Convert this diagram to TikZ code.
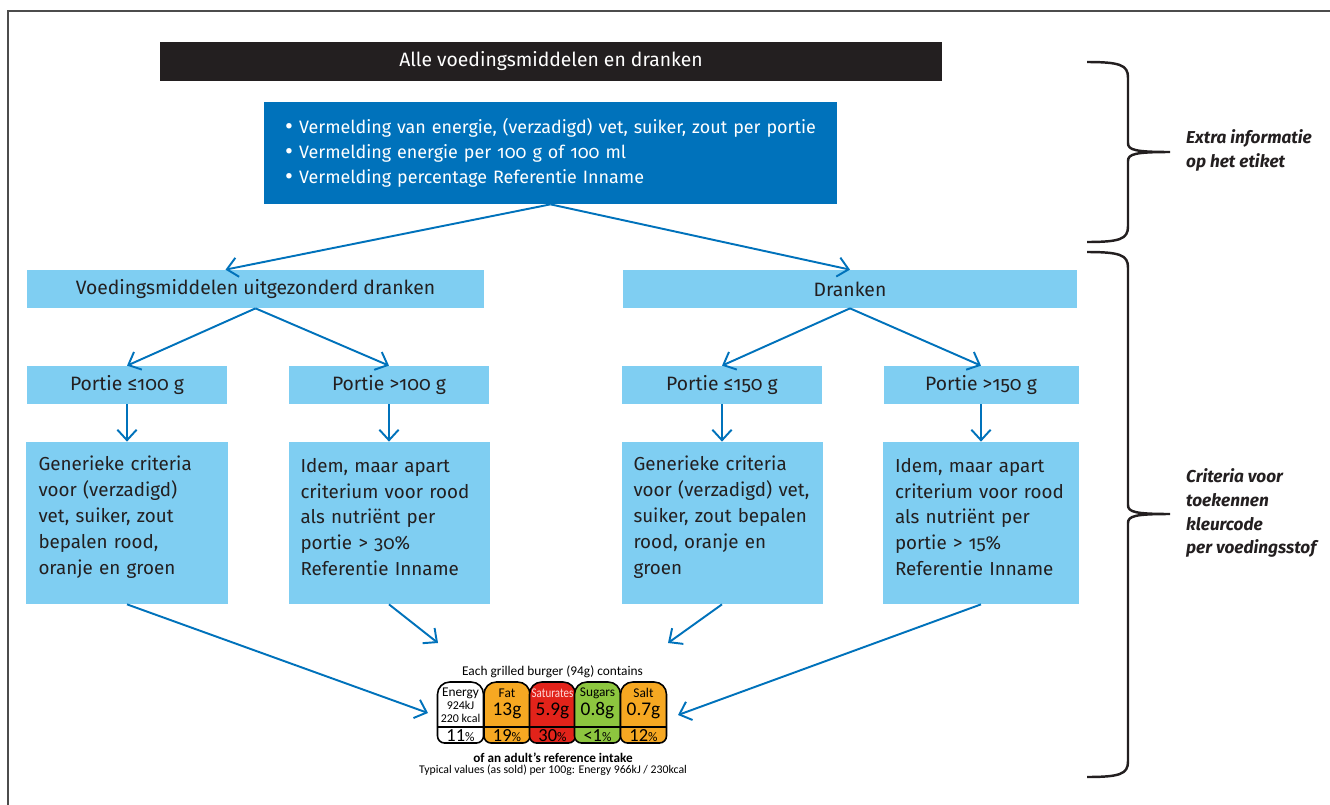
\documentclass[tikz,border=0pt]{standalone}
\usepackage{fontspec}
\setmainfont{Fira Sans}[Numbers=OldStyle]
\newfontfamily\lblfont{Carlito}
\usepackage{tikz}
\usetikzlibrary{arrows.meta,calc}
\definecolor{roBlue}{RGB}{0,114,187}
\definecolor{roLight}{RGB}{127,206,242}
\definecolor{roBlack}{RGB}{35,31,32}
\definecolor{lblOrange}{RGB}{246,168,34}
\definecolor{lblRed}{RGB}{226,35,26}
\definecolor{lblGreen}{RGB}{141,198,63}
\newcommand{\lblPct}[1]{#1{\fontsize{7.5}{8}\selectfont\%}}
\newcommand{\infoDot}{\makebox[8pt][l]{\raisebox{-0.6pt}{\scalebox{1.35}{\textbullet}}}}
\tikzset{flowFig/.style={-{Straight Barb[length=6pt,width=11pt]},line width=1.1pt,color=roBlue},
                    barBox/.style={fill=roBlack,text=white,minimum width=15.64cm,minimum height=0.78cm,
                    font=\fontsize{11}{13}\selectfont},
                    infoBox/.style={fill=roBlue,text=white,minimum width=11.46cm,minimum height=2.04cm,
                    inner xsep=0.42cm,text width=10.62cm,align=left,font=\fontsize{10.2}{14.2}\selectfont},
                    lightBox/.style={fill=roLight,text=roBlack,minimum height=0.76cm,font=\fontsize{11}{13}\selectfont},
                    critBox/.style={fill=roLight,text=roBlack,minimum height=3.24cm,inner xsep=0.24cm,
                    text width=3.54cm,align=left,font=\fontsize{10.7}{14.7}\selectfont,
                    execute at end node={\par\vspace{0.24cm}}},
                    braceLine/.style={line width=1.4pt,draw=roBlack},
                    sideText/.style={anchor=west,align=left,text=roBlack,font=\bfseries\itshape\fontsize{9.8}{13.6}\selectfont},
                    pillLine/.style={line width=0.9pt,draw=black},
                    lblText/.style={inner sep=0pt,font=\lblfont\fontsize{6.7}{8}\selectfont},
                    lblVal/.style={inner sep=0pt,align=center,font=\lblfont\fontsize{11}{11}\selectfont}}

\begin{document}
\begin{tikzpicture}
		    \useasboundingbox (0,0) rectangle (26.6,-16.1);
		    \draw[gray!60!black,line width=0.8pt] (0.16,-16.3) -- (0.16,-0.22) -- (26.8,-0.22);
		    %TOP
			\node [barBox] (bAll) at (11.02,-1.23)     {Alle voedingsmiddelen en dranken};
			\node [infoBox] (bInfo) at (11.01,-3.06)     {\infoDot Vermelding van energie, (verzadigd) vet, suiker, zout per portie\\
			\infoDot Vermelding energie per 100 g of 100 ml\\
			\infoDot Vermelding percentage Referentie Inname};
			%FOOD
			\node [lightBox, minimum width=9.14cm] (bFood) at (5.11,-5.78)     {Voedingsmiddelen uitgezonderd dranken};
			\node [lightBox, minimum width=4cm] (pF1) at (2.54,-7.70)     {Portie ≤100 g};
			\node [lightBox, minimum width=4cm] (pF2) at (7.78,-7.70)     {Portie >100 g};
			\node [critBox] (cF1) at (2.54,-10.46)     {Generieke criteria\\voor (verzadigd)\\vet, suiker, zout\\bepalen rood,\\oranje en groen};
			\node [critBox] (cF2) at (7.78,-10.46)     {Idem, maar apart\\criterium voor rood\\als nutriënt per\\portie > 30\%\\Referentie Inname};
			%DRINKS
			\node [lightBox, minimum width=9.08cm] (bDrink) at (17.0,-5.78)     {Dranken};
			\node [lightBox, minimum width=4cm] (pD1) at (14.44,-7.70)     {Portie ≤150 g};
			\node [lightBox, minimum width=3.9cm] (pD2) at (19.62,-7.70)     {Portie >150 g};
			\node [critBox] (cD1) at (14.44,-10.46)     {Generieke criteria\\voor (verzadigd) vet,\\suiker, zout bepalen\\rood, oranje en\\groen};
			\node [critBox, text width=3.44cm] (cD2) at (19.62,-10.46)     {Idem, maar apart\\criterium voor rood\\als nutriënt per\\portie > 15\%\\Referentie Inname};
			%LABEL
			\coordinate (lblW) at (8.56,-14.26);
			\coordinate (lblNW) at (8.76,-12.86);
			\coordinate (lblNE) at (13.36,-12.86);
			\coordinate (lblE) at (13.56,-14.30);
			\node [lblText, font=\lblfont\fontsize{7.6}{8}\selectfont] (lblHead) at (11.05,-13.44) {Each grilled burger (94g) contains};
			\foreach \cx/\fc/\nm/\pct [count=\i] in {9.21/white/Energy/11, 10.14/lblOrange/Fat/19,
			    11.05/lblRed/{\color{white!85!red}\scalebox{0.82}[1]{Saturates}}/30, 11.95/lblGreen/Sugars/{<1}, 12.87/lblOrange/Salt/12}
			{
			    \draw[pillLine, fill=\fc] (\cx-0.46,-14.3) [rounded corners=4pt] -- (\cx-0.46,-14.86) -- (\cx+0.46,-14.86)
			        -- (\cx+0.46,-14.3) [rounded corners=7pt] -- (\cx+0.46,-13.64) -- (\cx-0.46,-13.64) -- (\cx-0.46,-14.3);
			    \draw[pillLine, line width=1.1pt] (\cx-0.46,-14.54) -- (\cx+0.46,-14.54);
			    \node [lblText, font=\lblfont\fontsize{7.6}{9}\selectfont] (lblN\i) at (\cx,-13.86) {\nm};
			    \node [lblVal, font=\lblfont\fontsize{10.5}{11}\selectfont] (lblP\i) at (\cx,-14.71) {\lblPct{\pct}};
			}
			\node [lblVal, font=\lblfont\fontsize{6.8}{7}\selectfont] (lblV1) at (9.21,-14.24) {924kJ\\220 kcal};
			\node [lblVal] (lblV2) at (10.14,-14.22) {13g};
			\node [lblVal] (lblV3) at (11.05,-14.22) {5.9g};
			\node [lblVal] (lblV4) at (11.95,-14.22) {0.8g};
			\node [lblVal] (lblV5) at (12.87,-14.22) {0.7g};
			\node [lblText, font=\lblfont\bfseries\fontsize{7.5}{8}\selectfont] (lblRI) at (11.06,-15.16) {of an adult’s reference intake};
			\node [lblText] (lblTyp) at (11.06,-15.40) {Typical values (as sold) per 100g: Energy 966kJ / 230kcal};
			%SIDE
			\draw[braceLine] (21.74,-1.24) .. controls (22.40,-1.24) and (22.56,-1.30) .. (22.56,-1.55) -- (22.56,-2.86)
			    .. controls (22.56,-3.00) and (22.70,-3.04) .. (23.40,-3.04)
			    .. controls (22.70,-3.04) and (22.56,-3.08) .. (22.56,-3.22) -- (22.56,-4.53)
			    .. controls (22.56,-4.78) and (22.40,-4.84) .. (21.74,-4.84);
			\draw[braceLine] (21.74,-5.04) .. controls (22.40,-5.04) and (22.56,-5.10) .. (22.56,-5.35) -- (22.56,-10.10)
			    .. controls (22.56,-10.24) and (22.70,-10.28) .. (23.40,-10.28)
			    .. controls (22.70,-10.28) and (22.56,-10.32) .. (22.56,-10.46) -- (22.56,-15.23)
			    .. controls (22.56,-15.48) and (22.40,-15.54) .. (21.74,-15.54);
			\node [sideText] (sInfo) at (23.60,-3.00) {Extra informatie\\op het etiket};
			\node [sideText] (sCrit) at (23.60,-10.26) {Criteria voor\\toekennen\\kleurcode\\per voedingsstof};

			%
			\path[flowFig]
            %TOP
            (bInfo.south) edge ($(bFood.north)+(-0.6,0)$)
			(bInfo.south) edge (bDrink.north)
            %FOOD
			(bFood.south) edge (pF1.north)
			(bFood.south) edge (pF2.north)
			(pF1) edge (cF1)
			(pF2) edge (cF2)
			(cF1.south) edge (lblW)
			(cF2.south) edge (lblNW)
			%DRINKS
			(bDrink.south) edge (pD1.north)
			(bDrink.south) edge (pD2.north)
			(pD1) edge (cD1)
			(pD2) edge (cD2)
			(cD1.south) edge (lblNE)
			(cD2.south) edge (lblE)
			;
		\end{tikzpicture}
\end{document}
